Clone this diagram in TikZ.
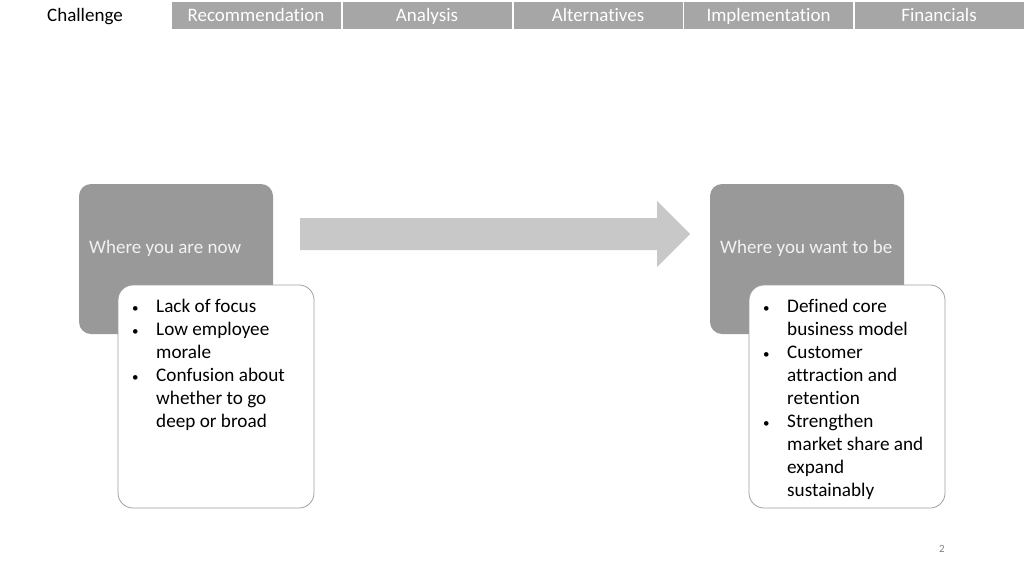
\documentclass[tikz,border=0pt]{standalone}
\usepackage{fontspec}
\setmainfont{Carlito}[Ligatures={NoCommon}]
\definecolor{tabgray}{HTML}{A6A6A6}
\definecolor{boxgray}{HTML}{999999}
\definecolor{arrowgray}{HTML}{C8C8C8}
\definecolor{edgegray}{HTML}{A0A0A0}
\definecolor{softwhite}{HTML}{F2F2F2}
\newcommand{\bul}{{\fontsize{13}{13}\selectfont\hspace{1pt}\textbullet}}
\tikzset{
  tab/.style={fill=tabgray, draw=white, line width=1pt, minimum width=170pt, minimum height=28pt, inner sep=0pt},
  tablabel/.style={inner sep=0pt, text height=13pt, text depth=4pt, font=\fontsize{19}{22}\selectfont},
  graybox/.style={fill=boxgray, draw=none, rounded corners=12pt, minimum width=194pt, minimum height=150pt, inner sep=0pt},
  whitebox/.style={fill=white, draw=edgegray, line width=0.8pt, rounded corners=15pt, minimum width=196pt, minimum height=223pt, inner sep=0pt},
  graylabel/.style={text=softwhite, anchor=west, inner sep=0pt, font=\fontsize{19}{22}\selectfont},
  list/.style={anchor=north west, inner sep=0pt, align=left, font=\fontsize{19.2}{23}\selectfont}
}
\begin{document}
\begin{tikzpicture}[x=1pt,y=-1pt]
\useasboundingbox (0,0) rectangle (1024,576);
% header
\node[tab] (t1) at (256,15) {};
\node[tab] (t2) at (427,15) {};
\node[tab] (t3) at (598,15) {};
\node[tab] (t4) at (768.5,15) {};
\node[tab] (t5) at (939,15) {};
\node[tablabel] (l0) at (85,17) {Challenge};
\node[tablabel, text=white] (l1) at (256,17) {Recommendation};
\node[tablabel, text=white] (l2) at (427,17) {Analysis};
\node[tablabel, text=white] (l3) at (598,17) {Alternatives};
\node[tablabel, text=white] (l4) at (768.5,17) {Implementation};
\node[tablabel, text=white] (l5) at (939,17) {Financials};
% gray boxes
\node[graybox] (now) at (176,259) {};
\node[graylabel] (nowlbl) at (89,248) {Where you are now};
\node[graybox] (want) at (807,259) {};
\node[graylabel] (wantlbl) at (720,248) {Where you want to be};
% arrow
\fill[arrowgray] (300,218) -- (657,218) -- (657,201) -- (690,234) -- (657,267) -- (657,250) -- (300,250) -- cycle;
% white boxes
\node[whitebox] (nowlist) at (216,396.5) {};
\node[whitebox] (wantlist) at (847,396.5) {};
\node[list] (nowtxt) at (131,296) {%
\begin{tabular}{@{}p{25pt}@{}l@{}}
\bul & Lack of focus\\
\bul & Low employee\\
 & morale\\
\bul & Confusion about\\
 & whether to go\\
 & deep or broad
\end{tabular}};
\node[list] (wanttxt) at (762,296) {%
\begin{tabular}{@{}p{25pt}@{}l@{}}
\bul & Defined core\\
 & business model\\
\bul & Customer\\
 & attraction and\\
 & retention\\
\bul & Strengthen\\
 & market share and\\
 & expand\\
 & sustainably
\end{tabular}};
% page number
\node[text=gray, inner sep=0pt, font=\fontsize{11}{13}\selectfont] (page) at (942,549) {2};
\end{tikzpicture}
\end{document}
